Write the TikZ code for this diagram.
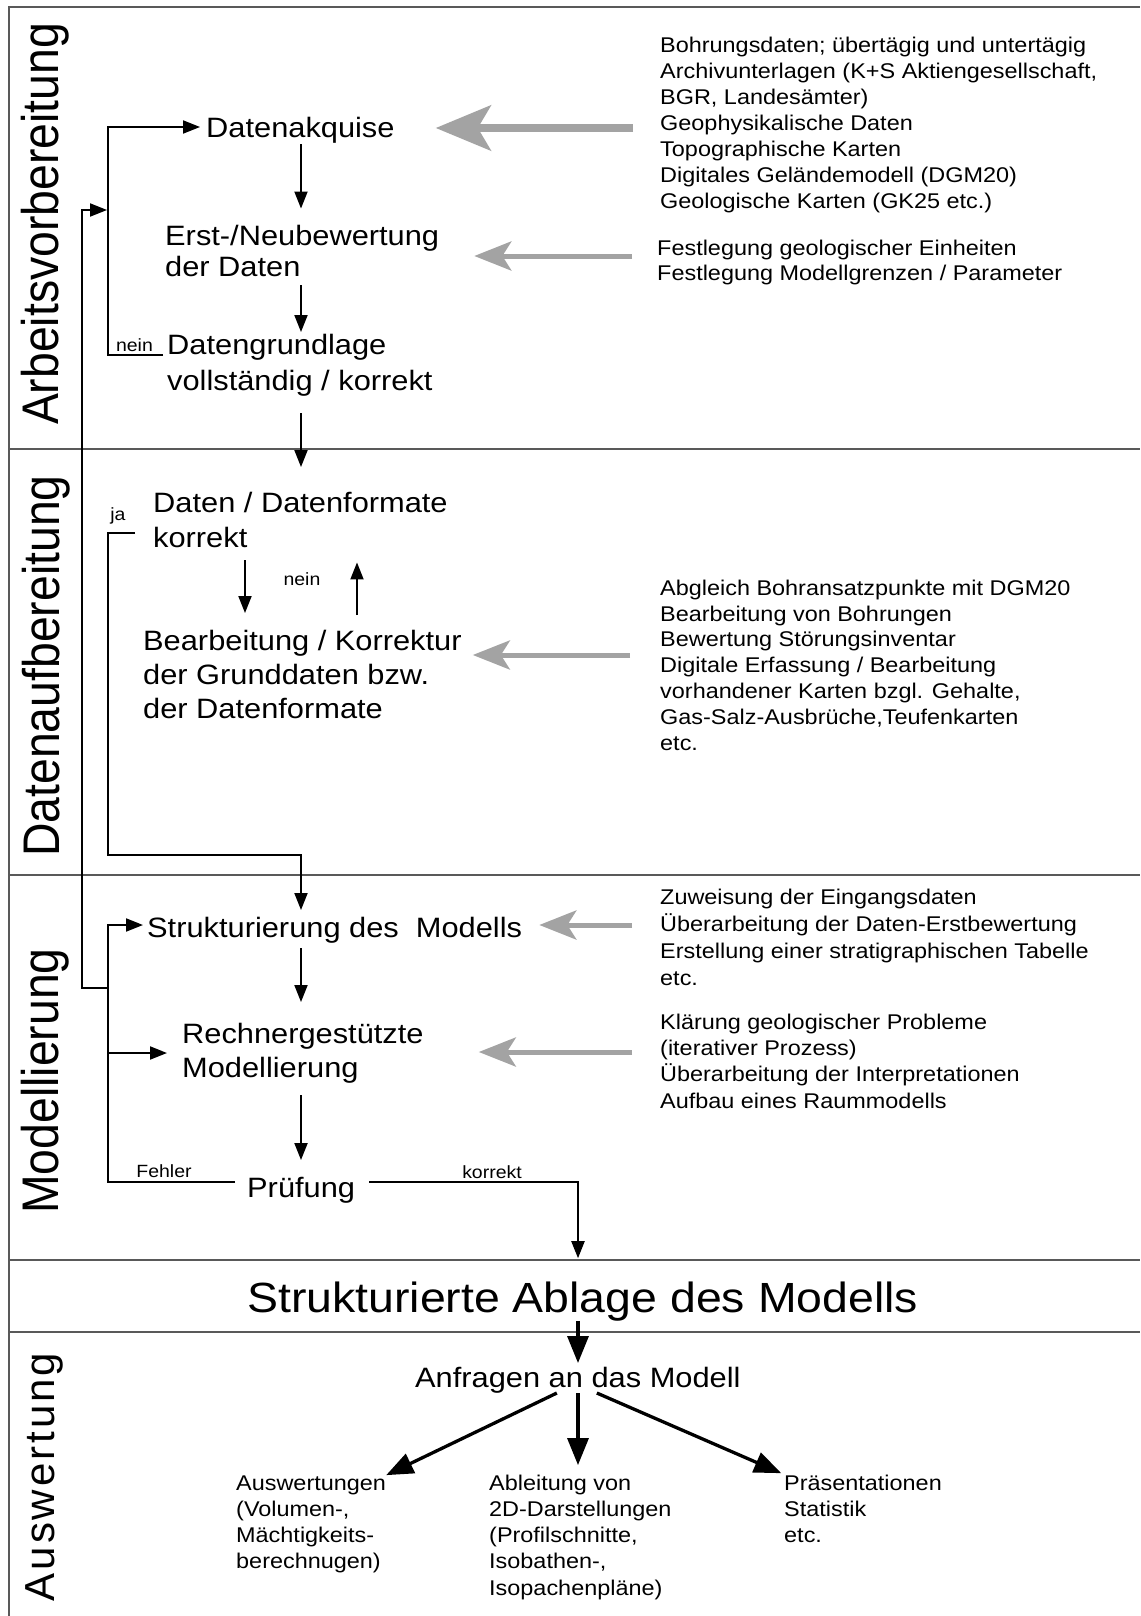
\documentclass[tikz,border=0pt]{standalone}
\usepackage{fontspec}
\setmainfont{Liberation Sans}[FakeStretch=1.1]
\newfontfamily\sidefont{Liberation Sans}[FakeStretch=0.9]
\newfontfamily\auswfont{Liberation Sans}[LetterSpace=7]
\usetikzlibrary{arrows.meta}
\definecolor{arrgray}{gray}{0.64}
\definecolor{framegray}{gray}{0.35}
\begin{document}
\begin{tikzpicture}[x=1pt,y=-1pt,
  frame/.style={draw=framegray, line width=2pt},
  main/.style={font=\fontsize{28}{31}\selectfont, inner sep=0pt, align=left, anchor=base west},
  info/.style={inner sep=0pt, align=left, anchor=base west},
  lab/.style={font=\fontsize{17.7}{20}\selectfont, inner sep=0pt, anchor=base},
  sidelab/.style={font=\sidefont\fontsize{51.5}{55}\selectfont, rotate=90, inner sep=0pt},
  auswlab/.style={font=\auswfont\fontsize{42}{46}\selectfont, rotate=90, inner sep=0pt},
  arr/.style={draw=black, line width=2pt, -{Triangle[length=17pt,width=13pt]}},
  bigarr/.style={draw=black, line width=3.3pt, -{Triangle[length=27pt,width=21pt]}},
  garr/.style={draw=arrgray, line width=5pt, -{Stealth[length=37pt,width=29pt,inset=9pt]}},
  garrbig/.style={draw=arrgray, line width=8pt, -{Stealth[length=55pt,width=45pt,inset=13pt]}}
]
\fill[white] (0,0) rectangle (1140,1616);
\useasboundingbox (0,0) rectangle (1140,1616);

% frame and section lines
\draw[frame] (9,1616) -- (9,7) -- (1140,7);
\draw[frame] (9,449) -- (1140,449);
\draw[frame] (9,875) -- (1140,875);
\draw[frame] (9,1260) -- (1140,1260);
\draw[frame] (9,1332) -- (1140,1332);

% side labels
\node[sidelab] (s1) at (45,224) {Arbeitsvorbereitung};
\node[sidelab] (s2) at (46,666) {Datenaufbereitung};
\node[sidelab] (s3) at (45,1081) {Modellierung};
\node[auswlab] (s4) at (44.5,1477) {Auswertung};

% process nodes (base = baseline of the last line)
\node[main] (dak) at (206,138) {Datenakquise};
\node[main, font=\fontsize{28}{31}\selectfont] (erst) at (165,276) {Erst-/Neubewertung\\der Daten};
\node[main, font=\fontsize{28}{36}\selectfont] (dgl) at (167,390) {Datengrundlage\\vollständig / korrekt};
\node[main, font=\fontsize{28}{35}\selectfont] (dfk) at (153,547) {Daten / Datenformate\\korrekt};
\node[main, font=\fontsize{28}{34}\selectfont] (bear) at (143,718) {Bearbeitung / Korrektur\\der Grunddaten bzw.\\der Datenformate};
\node[main] (struk) at (147,937) {Strukturierung des\ \ Modells};
\node[main, font=\fontsize{28}{34}\selectfont] (rech) at (182,1077) {Rechnergestützte\\Modellierung};
\node[main] (prf) at (247,1197) {Prüfung};
\node[main, font=\fontsize{42.2}{46}\selectfont] (band) at (247,1312) {Strukturierte Ablage des Modells};
\node[main] (anfr) at (415,1387) {Anfragen an das Modell};

% info texts
\node[info, font=\fontsize{21.3}{26}\selectfont] (info1) at (660,208) {Bohrungsdaten; übertägig und untertägig\\Archivunterlagen (K+S Aktiengesellschaft,\\BGR, Landesämter)\\Geophysikalische Daten\\Topographische Karten\\Digitales Geländemodell (DGM20)\\Geologische Karten (GK25 etc.)};
\node[info, font=\fontsize{21.3}{25.5}\selectfont] (info2) at (657,280.5) {Festlegung geologischer Einheiten\\Festlegung Modellgrenzen / Parameter};
\node[info, font=\fontsize{21.3}{25.8}\selectfont] (info3) at (660,750) {Abgleich Bohransatzpunkte mit DGM20\\Bearbeitung von Bohrungen\\Bewertung Störungsinventar\\Digitale Erfassung / Bearbeitung\\vorhandener Karten bzgl. Gehalte,\\Gas-Salz-Ausbrüche,Teufenkarten\\etc.};
\node[info, font=\fontsize{21.3}{27}\selectfont] (info4) at (660,985) {Zuweisung der Eingangsdaten\\Überarbeitung der Daten-Erstbewertung\\Erstellung einer stratigraphischen Tabelle\\etc.};
\node[info, font=\fontsize{21.3}{26.3}\selectfont] (info5) at (660,1108) {Klärung geologischer Probleme\\(iterativer Prozess)\\Überarbeitung der Interpretationen\\Aufbau eines Raummodells};

% result texts
\node[info, font=\fontsize{21.3}{26}\selectfont] (aus) at (236,1568) {Auswertungen\\(Volumen-,\\Mächtigkeits-\\berechnugen)};
\node[info, font=\fontsize{21.3}{26.2}\selectfont] (abl) at (489,1595) {Ableitung von\\2D-Darstellungen\\(Profilschnitte,\\Isobathen-,\\Isopachenpläne)};
\node[info, font=\fontsize{21.3}{26}\selectfont] (pra) at (784,1542) {Präsentationen\\Statistik\\etc.};

% small labels
\node[lab] (lnein1) at (134.5,351) {nein};
\node[lab] (lja) at (118,520) {ja};
\node[lab] (lnein2) at (302,585) {nein};
\node[lab] (lfehler) at (164,1177) {Fehler};
\node[lab] (lkorrekt) at (492,1178) {korrekt};

% helper coordinates
\coordinate (cx) at (301,0);
\coordinate (nx1) at (245,0);
\coordinate (nx2) at (357,0);
\coordinate (kc) at (578,1182);
\coordinate (b1top) at (108,127);
\coordinate (b1mid) at (108,210);
\coordinate (b1bot) at (108,355);
\coordinate (f2) at (82,210);
\coordinate (f1) at (82,988);
\coordinate (j2) at (108,988);
\coordinate (b2top) at (108,925);
\coordinate (b2mid) at (108,1053);
\coordinate (b2bot) at (108,1182);
\coordinate (ja1) at (108,533);
\coordinate (ja2) at (108,855);
\coordinate (g1) at (0,128);
\coordinate (g2) at (0,256);
\coordinate (g3) at (0,655);
\coordinate (g4) at (0,925);
\coordinate (g5) at (0,1052);

% main flow
\draw[arr, shorten >=16pt] (dak.south -| cx) -- (erst.north -| cx);
\draw[arr, shorten <=9pt, shorten >=1.5pt] (erst.south -| cx) -- (dgl.north -| cx);
\draw[arr, shorten <=17pt, shorten >=24.5pt] (dgl.south -| cx) -- (dfk.north -| cx);
\draw[arr, shorten <=13pt, shorten >=16.5pt] (dfk.south -| nx1) -- (bear.north -| nx1);
\draw[arr, shorten <=14.5pt, shorten >=15pt] (bear.north -| nx2) -- (dfk.south -| nx2);
\draw[arr, shorten <=18pt, shorten >=6.5pt] (dfk.west |- ja1) -- (ja1) -- (ja2) -- (cx |- ja2) -- (struk.north -| cx);
\draw[arr, shorten <=5pt, shorten >=20.5pt] (struk.south -| cx) -- (rech.north -| cx);
\draw[arr, shorten <=12pt, shorten >=16.5pt] (rech.south -| cx) -- (prf.north -| cx);
\draw[arr, shorten <=12pt, shorten >=4pt] (prf.west |- b2bot) -- (b2bot) -- (b2top) -- (struk.west |- b2top);
\draw[arr, shorten >=15pt] (b2mid) -- (rech.west |- b2mid);
\draw[arr, shorten >=1pt] (j2) -- (f1) -- (f2) -- (b1mid);
\draw[arr, shorten <=4pt, shorten >=6pt] (dgl.west |- b1bot) -- (b1bot) -- (b1top) -- (dak.west |- b1top);
\draw[arr, shorten <=14pt, shorten >=23pt] (prf.east |- kc) -- (kc) -- (band.north -| kc);
\draw[bigarr, shorten >=3.5pt] (band.south -| kc) -- (anfr.north -| kc);
\draw[bigarr] ([xshift=-21pt]anfr.south) -- (aus.north east);
\draw[bigarr, shorten >=9.5pt] (anfr.south -| kc) -- (abl.north -| kc);
\draw[bigarr, shorten >=3pt] ([xshift=19pt]anfr.south) -- (pra.north west);

% grey input arrows
\draw[garrbig, shorten <=27pt, shorten >=41pt] (info1.west |- g1) -- (dak.east |- g1);
\draw[garr, shorten <=25pt, shorten >=35pt] (info2.west |- g2) -- (erst.east |- g2);
\draw[garr, shorten <=30pt, shorten >=11pt] (info3.west |- g3) -- (bear.east |- g3);
\draw[garr, shorten <=28pt, shorten >=17pt] (info4.west |- g4) -- (struk.east |- g4);
\draw[garr, shorten <=28pt, shorten >=55pt] (info5.west |- g5) -- (rech.east |- g5);
\end{tikzpicture}
\end{document}
